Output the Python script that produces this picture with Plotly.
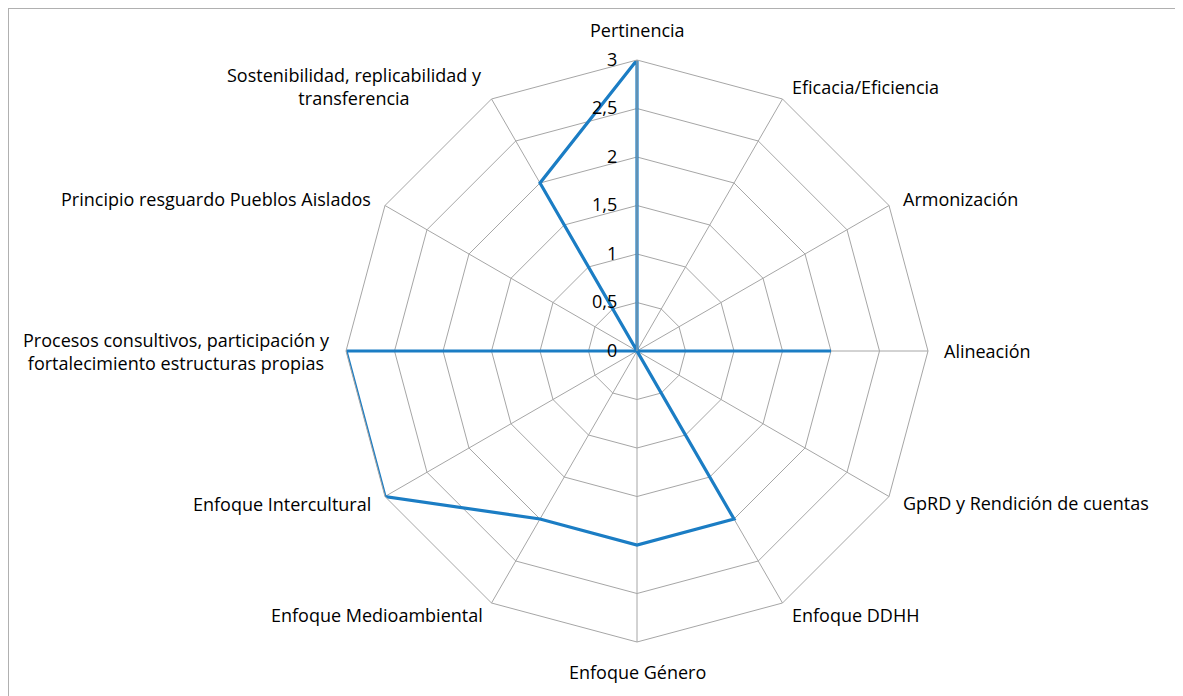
import math
import plotly.graph_objects as go

categories = [
    "Pertinencia",
    "Eficacia/Eficiencia",
    "Armonización",
    "Alineación",
    "GpRD y Rendición de cuentas",
    "Enfoque DDHH",
    "Enfoque Género",
    "Enfoque Medioambiental",
    "Enfoque Intercultural",
    "Procesos consultivos, participación y<br>fortalecimiento estructuras propias",
    "Principio resguardo Pueblos Aislados",
    "Sostenibilidad, replicabilidad y<br>transferencia",
]
values = [3, 0, 0, 2, 0, 2, 2, 2, 3, 3, 0, 2]
tick_vals = [0, 0.5, 1, 1.5, 2, 2.5, 3]
tick_text = ["0", "0,5", "1", "1,5", "2", "2,5", "3"]

grid = "#A6A6A6"
font = dict(family="Open Sans, sans-serif", size=18, color="#000000")

fig = go.Figure()
fig.add_trace(go.Scatterpolar(
    r=values + values[:1],
    theta=categories + categories[:1],
    mode="lines",
    line=dict(color="#1B7DC4", width=3.2),
    showlegend=False,
))

# page has an 8px body margin; centre wanted at (637, 351), radius 291
L, R, T, B = 338, 263, 52, 62
W, H = 1183, 696
pw, ph = W - L - R, H - T - B

# category labels placed Excel-style just outside each spoke end
annotations = []
n = len(categories)
for i, cat in enumerate(categories):
    a = math.radians(360.0 * i / n)
    s, c = math.sin(a), math.cos(a)
    if abs(s) < 0.01:
        xa = "center"
        ya = "bottom" if c > 0 else "top"
        d = 16
    else:
        xa = "left" if s > 0 else "right"
        ya = "middle"
        d = 14
    annotations.append(dict(
        text=cat, xref="paper", yref="paper",
        x=0.5 + 0.5 * s, y=0.5 + 0.5 * c,
        xshift=d * s, yshift=d * c,
        xanchor=xa, yanchor=ya, align="center",
        showarrow=False, font=font,
    ))

fig.update_layout(
    width=W, height=H,
    margin=dict(l=L, r=R, t=T, b=B),
    paper_bgcolor="white",
    plot_bgcolor="white",
    font=font,
    polar=dict(
        bgcolor="white",
        gridshape="linear",
        radialaxis=dict(
            range=[0, 3],
            angle=90,
            side="counterclockwise",
            tickvals=tick_vals,
            ticktext=tick_text,
            showline=True,
            linecolor=grid,
            gridcolor=grid,
            gridwidth=1,
            ticks="outside",
            ticklen=13,
            tickcolor="rgba(0,0,0,0)",
            tickangle=90,
            tickfont=font,
        ),
        angularaxis=dict(
            direction="clockwise",
            rotation=90,
            linecolor=grid,
            gridcolor=grid,
            ticks="",
            showticklabels=False,
        ),
    ),
    annotations=annotations,
    shapes=[dict(
        type="rect", xref="paper", yref="paper",
        x0=(0 - L) / pw, x1=(W + 20 - L) / pw,
        y0=(H - B - (H + 20)) / ph, y1=(H - B - 0) / ph,
        line=dict(color="#B0B0B0", width=2),
    )],
)

fig.write_html("out.html")
